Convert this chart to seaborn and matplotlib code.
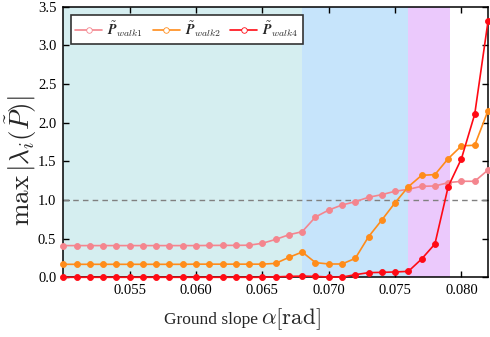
import numpy as np
import pandas as pd
import matplotlib
matplotlib.use("Agg")
import matplotlib.pyplot as plt
import seaborn as sns

alpha = [0.050, 0.051, 0.052, 0.053, 0.054, 0.055, 0.056, 0.057, 0.058, 0.059,
         0.060, 0.061, 0.062, 0.063, 0.064, 0.065, 0.066, 0.067, 0.068, 0.069,
         0.070, 0.071, 0.072, 0.073, 0.074, 0.075, 0.076, 0.077, 0.078, 0.079,
         0.080, 0.081, 0.082]
walk1 = [0.41, 0.41, 0.41, 0.41, 0.41, 0.41, 0.41, 0.41, 0.41, 0.41,
         0.41, 0.412, 0.413, 0.413, 0.415, 0.44, 0.49, 0.55, 0.59, 0.78,
         0.87, 0.935, 0.978, 1.035, 1.069, 1.113, 1.138, 1.177, 1.181, 1.224,
         1.242, 1.242, 1.388]
walk2 = [0.168, 0.168, 0.168, 0.168, 0.168, 0.168, 0.168, 0.168, 0.168, 0.168,
         0.17, 0.17, 0.17, 0.17, 0.17, 0.17, 0.18, 0.258, 0.327, 0.19,
         0.172, 0.172, 0.245, 0.525, 0.741, 0.965, 1.172, 1.319, 1.328, 1.535,
         1.70, 1.708, 2.155]
walk4 = [0.0, 0.0, 0.0, 0.0, 0.0, 0.0, 0.0, 0.0, 0.0, 0.0,
         0.0, 0.0, 0.0, 0.0, 0.0, 0.0, 0.005, 0.012, 0.015, 0.012,
         0.003, 0.002, 0.034, 0.06, 0.064, 0.069, 0.077, 0.237, 0.431, 1.172,
         1.535, 2.11, 3.31]

series_names = [r"$\tilde{\boldsymbol{P}}_{walk1}$",
                r"$\tilde{\boldsymbol{P}}_{walk2}$",
                r"$\tilde{\boldsymbol{P}}_{walk4}$"]
colors = ["#f4858e", "#ff8c1a", "#ff0a14"]
regions = [(0.050, 0.0680, "#d5eef0"),
           (0.0680, 0.0760, "#c6e4fb"),
           (0.0760, 0.0791, "#ebc9fc")]
xticks = [0.055, 0.060, 0.065, 0.070, 0.075, 0.080]
yticks = [0.0, 0.5, 1.0, 1.5, 2.0, 2.5, 3.0, 3.5]

sns.set_theme(style="ticks")
plt.rcParams["font.family"] = ["Liberation Serif", "DejaVu Serif"]
plt.rcParams["mathtext.fontset"] = "cm"

fig = plt.figure(figsize=(4.9, 3.37), dpi=100)
ax = fig.add_axes([63.3 / 490, (337 - 277.3) / 337, (488 - 63.3) / 490, (277.3 - 6.7) / 337])

for x0, x1, c in regions:
    ax.axvspan(x0, x1, color=c, lw=0, zorder=0)

ax.axhline(1.0, color="#808080", ls=(0, (4, 3)), lw=1.0, zorder=1)

df = pd.DataFrame({"alpha": alpha * 3,
                   "value": walk1 + walk2 + walk4,
                   "series": sum([[n] * len(alpha) for n in series_names], [])})

for name, col in zip(series_names, colors):
    sub = df[df["series"] == name]
    sns.lineplot(data=sub, x="alpha", y="value", ax=ax, color=col, lw=1.2,
                 marker="o", markersize=4.3, markeredgewidth=0.6,
                 markeredgecolor=col, label=name, zorder=3, clip_on=False)

ax.set_xlim(0.050, 0.082)
ax.set_ylim(0.0, 3.5)
ax.set_xticks(xticks)
ax.set_xticklabels([f"{v:.3f}" for v in xticks])
ax.set_yticks(yticks)
ax.set_yticklabels([f"{v:.1f}" for v in yticks])
ax.tick_params(direction="in", top=True, right=True, length=4, width=1,
               labelsize=10.5, colors="black", pad=5)
for s in ax.spines.values():
    s.set_color("black")
    s.set_linewidth(1.1)
ax.set_xlabel("")
ax.set_ylabel(r"$\max\,|\lambda_i(\tilde{P})|$", fontsize=19.5)
ax.yaxis.set_label_coords(-0.058, 0.43)

leg = ax.legend(loc="upper left", ncol=3, frameon=True, fancybox=False,
                edgecolor="#333333", fontsize=10, handlelength=1.95,
                columnspacing=0.7, handletextpad=0.35,
                bbox_to_anchor=(0.017, 0.97), borderpad=0.35,
                borderaxespad=0.0)
leg.get_frame().set_linewidth(1.2)
leg.get_frame().set_facecolor("white")
leg.get_frame().set_alpha(1)
for h in leg.legend_handles:
    h.set_markerfacecolor("white")
    h.set_markersize(4)

fig.text(258 / 490, 1 - 324 / 337, "Ground slope", ha="right", va="baseline",
         fontsize=12.5)
fig.text(261 / 490, 1 - 324 / 337, r"$\alpha[\mathrm{rad}]$", ha="left",
         va="baseline", fontsize=16.5)

fig.savefig("out.png", dpi=100)
